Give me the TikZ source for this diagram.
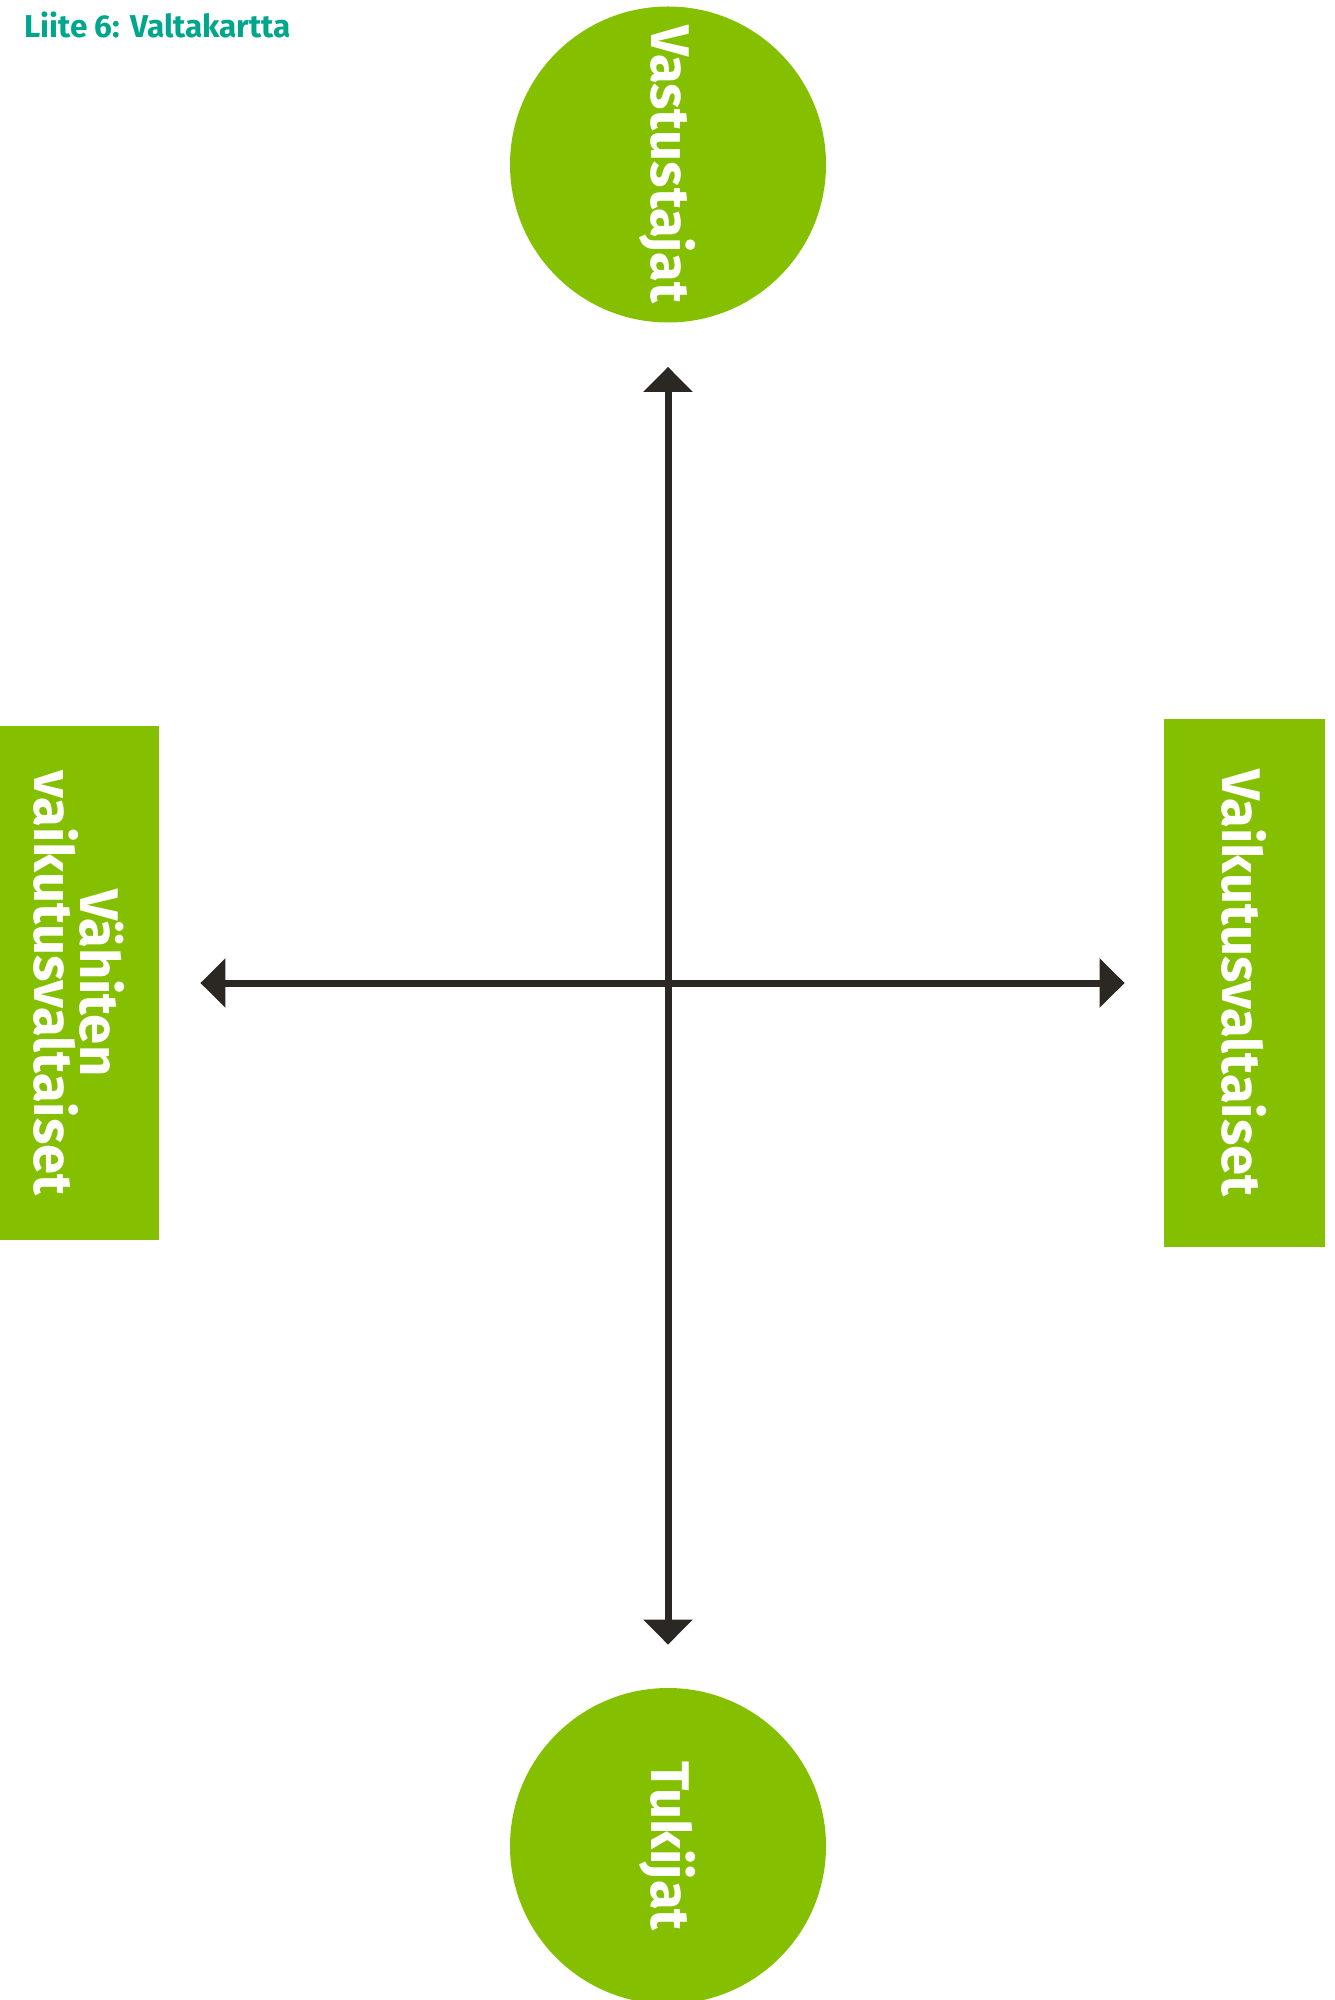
\documentclass[tikz,border=0pt]{standalone}
\usepackage{fontspec}
\setmainfont{Fira Sans}
\usepackage{tikz}
\usetikzlibrary{arrows.meta,positioning}
\definecolor{vkgreen}{RGB}{132,192,0}
\definecolor{vkteal}{RGB}{0,166,140}
\definecolor{vkdark}{RGB}{43,39,34}

\begin{document}
\begin{tikzpicture}[
  x=0.5pt, y=-0.5pt,
  font=\bfseries\fontsize{27.2}{23}\selectfont,
  party/.style={circle, fill=vkgreen, text=white, minimum size=158pt,
                inner sep=0pt, rotate=-90},
  side/.style={rectangle, fill=vkgreen, text=white, align=center,
               inner sep=0pt, rotate=-90},
  arr/.style={{Triangle[width=24pt,length=12.5pt]}-{Triangle[width=24pt,length=12.5pt]},
              vkdark, line width=3.5pt}
]
\clip (0,0) rectangle (1334,2000);

\node[anchor=base west, inner sep=0pt, text=vkteal,
      font=\bfseries\fontsize{15.8}{19}\selectfont] (title) at (24,38)
  {Liite 6: Valtakartta};

\node[party] (opp) at (668,164.5) {Vastustajat};
\node[party] (sup) at (668,1846) {Tukijat};
\node[side, minimum width=257pt, minimum height=79.5pt] (weak) at (79.5,983)
  {Vähiten\\vaikutusvaltaiset};
\node[side, minimum width=264pt, minimum height=80.5pt] (strong) at (1244.5,983)
  {Vaikutusvaltaiset};

\draw[arr, shorten <=22pt, shorten >=21.5pt] (opp) -- (sup);
\draw[arr, shorten <=20.5pt, shorten >=19.5pt] (weak) -- (strong);

\end{tikzpicture}
\end{document}
